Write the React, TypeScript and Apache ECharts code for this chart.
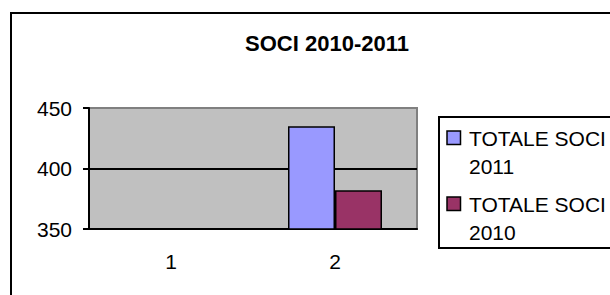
import React, { useEffect, useRef } from "react";
import * as echarts from "echarts";

const categories = ["1", "2"];
const seriesNames = ["TOTALE SOCI 2011", "TOTALE SOCI 2010"];
const soci2011 = [null, 435];
const soci2010 = [null, 382];
const yMin = 350;
const yMax = 450;
const yStep = 50;
const seriesColors = ["#9999FF", "#993366"];

const FONT = "'Liberation Sans', Arial, Helvetica, sans-serif";

function splitName(n: string) {
  const i = n.lastIndexOf(" ");
  return n.slice(0, i) + "\n" + n.slice(i + 1);
}

export default function App() {
  const ref = useRef<HTMLDivElement>(null);
  useEffect(() => {
    if (!ref.current) return;
    const chart = echarts.init(ref.current, undefined, { renderer: "svg" });
    const legendItemsY = [124, 190];
    const iconY = [131, 197];
    const legendGraphics: any[] = [];
    seriesNames.forEach((n, i) => {
      legendGraphics.push({
        type: "rect",
        shape: { x: 447, y: iconY[i], width: 13.5, height: 13.5 },
        style: { fill: seriesColors[i], stroke: "#000", lineWidth: 1.5 },
        z: 10,
      });
      legendGraphics.push({
        type: "text",
        x: 469,
        y: legendItemsY[i],
        style: {
          text: splitName(n),
          fontFamily: FONT,
          fontSize: 21,
          lineHeight: 28,
          fill: "#000",
          verticalAlign: "top",
          textVerticalAlign: "top",
        },
        z: 10,
      });
    });
    const labelStyle = { fontFamily: FONT, fontSize: 21, color: "#000" };
    chart.setOption({
      animation: false,
      title: {
        text: "SOCI 2010-2011",
        left: 322,
        top: 27,
        textAlign: "center",
        textStyle: { fontFamily: FONT, fontSize: 22, fontWeight: "bold", color: "#000" },
      },
      grid: {
        left: 89,
        right: 193,
        top: 108,
        bottom: 66,
        show: true,
        backgroundColor: "#C0C0C0",
        borderColor: "#808080",
        borderWidth: 2,
      },
      xAxis: {
        type: "category",
        data: categories,
        axisLine: { lineStyle: { color: "#000", width: 2 } },
        axisTick: { length: 7, lineStyle: { color: "#000", width: 2 } },
        axisLabel: { ...labelStyle, margin: 22 },
        splitLine: { show: false },
      },
      yAxis: {
        type: "value",
        min: yMin,
        max: yMax,
        interval: yStep,
        axisLine: { show: true, lineStyle: { color: "#000", width: 2 } },
        axisTick: { show: true, length: 6, lineStyle: { color: "#000", width: 2 } },
        axisLabel: { ...labelStyle, margin: 17 },
        splitLine: { lineStyle: { color: ["#000", "#000", "#808080"], width: 2 } },
      },
      series: [
        {
          type: "bar",
          name: seriesNames[0],
          data: soci2011,
          barWidth: 47,
          barGap: "0%",
          itemStyle: { color: seriesColors[0], borderColor: "#000", borderWidth: 1.5 },
        },
        {
          type: "bar",
          name: seriesNames[1],
          data: soci2010,
          barWidth: 47,
          barGap: "0%",
          itemStyle: { color: seriesColors[1], borderColor: "#000", borderWidth: 1.5 },
        },
      ],
      graphic: [
        {
          type: "rect",
          shape: { x: 11, y: 13, width: 700, height: 400 },
          style: { fill: "none", stroke: "#000", lineWidth: 2 },
          silent: true,
        },
        {
          type: "rect",
          shape: { x: 439, y: 117, width: 200, height: 131 },
          style: { fill: "#fff", stroke: "#000", lineWidth: 2 },
          z: 5,
        },
        ...legendGraphics,
      ],
    });
    return () => chart.dispose();
  }, []);
  return (
    <div
      ref={ref}
      style={{ position: "fixed", left: 0, top: 0, width: 610, height: 295, background: "#fff" }}
    />
  );
}
